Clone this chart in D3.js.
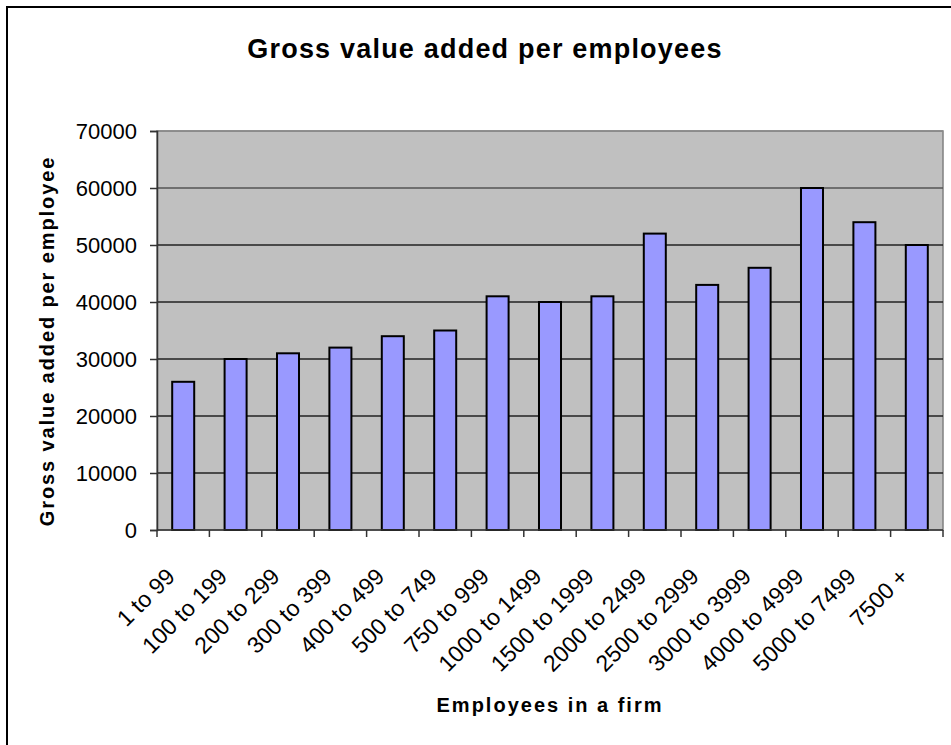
<!DOCTYPE html>
<html>
<head>
<meta charset="utf-8">
<script src="https://cdn.jsdelivr.net/npm/d3@7/dist/d3.min.js"></script>
<style>
  html, body { margin: 0; padding: 0; background: #fff; }
  svg { display: block; font-family: Arial, "Liberation Sans", sans-serif; }
</style>
</head>
<body>
<svg id="chart" width="951" height="745"></svg>
<script>
// Firm size classes and gross value added per employee
const categories = ["1 to 99", "100 to 199", "200 to 299", "300 to 399", "400 to 499",
  "500 to 749", "750 to 999", "1000 to 1499", "1500 to 1999", "2000 to 2499",
  "2500 to 2999", "3000 to 3999", "4000 to 4999", "5000 to 7499", "7500 +"];
const values = [26000, 30000, 31000, 32000, 34000, 35000, 41000, 40000, 41000,
  52000, 43000, 46000, 60000, 54000, 50000];
const yTicks = [0, 10000, 20000, 30000, 40000, 50000, 60000, 70000];
const titleText = "Gross value added per employees";
const xTitleText = "Employees in a firm";
const yTitleText = "Gross value added per employee";

const svg = d3.select("#chart");
const W = 951, H = 745;
const plot = { left: 157, right: 943, top: 131, bottom: 530 };

// outer chart frame (extends past the right and bottom edges)
svg.append("rect")
  .attr("x", 7).attr("y", 7).attr("width", W + 10).attr("height", H + 10)
  .attr("fill", "#fff").attr("stroke", "#000").attr("stroke-width", 2);

const x = d3.scaleBand().domain(categories).range([plot.left, plot.right]).paddingInner(0.58).paddingOuter(0.29);
const xTickPos = d3.scaleBand().domain(categories).range([plot.left, plot.right]);
const y = d3.scaleLinear().domain([0, 70000]).range([plot.bottom, plot.top]);

// plot background
svg.append("rect")
  .attr("x", plot.left).attr("y", plot.top)
  .attr("width", plot.right - plot.left).attr("height", plot.bottom - plot.top)
  .attr("fill", "#c0c0c0").attr("stroke", "#808080").attr("stroke-width", 1.5);

// horizontal gridlines
svg.append("g").selectAll("line").data(yTicks.filter(d => d > 0)).join("line")
  .attr("x1", plot.left).attr("x2", plot.right)
  .attr("y1", d => y(d)).attr("y2", d => y(d))
  .attr("stroke", d => d === 70000 ? "#8a8a8a" : (d === 60000 ? "#555" : "#222"))
  .attr("stroke-width", 1.5);

// bars
svg.append("g").selectAll("rect").data(values).join("rect")
  .attr("x", (d, i) => x(categories[i]))
  .attr("y", d => y(d))
  .attr("width", x.bandwidth())
  .attr("height", d => y(0) - y(d))
  .attr("fill", "#9999ff")
  .attr("stroke", "#000").attr("stroke-width", 2);

// y axis
const yAxis = svg.append("g")
  .attr("transform", `translate(${plot.left},0)`)
  .call(d3.axisLeft(y).tickValues(yTicks).tickFormat(d3.format("d")).tickSize(7).tickPadding(13));
yAxis.select(".domain").attr("stroke", "#333").attr("stroke-width", 1.5);
yAxis.selectAll(".tick line").attr("stroke", "#333").attr("stroke-width", 1.5);
yAxis.selectAll(".tick text")
  .attr("font-size", 22).attr("fill", "#000")
  .attr("font-family", "Arial, 'Liberation Sans', sans-serif");

// x axis: ticks sit between categories
const xAxisG = svg.append("g").attr("transform", `translate(0,${plot.bottom})`);
xAxisG.append("line")
  .attr("x1", plot.left).attr("x2", plot.right)
  .attr("stroke", "#333").attr("stroke-width", 1.5);
const boundaries = categories.map(c => xTickPos(c)).concat([plot.right]);
xAxisG.selectAll("line.tk").data(boundaries).join("line")
  .attr("class", "tk")
  .attr("x1", d => d).attr("x2", d => d)
  .attr("y1", 0).attr("y2", 7)
  .attr("stroke", "#333").attr("stroke-width", 1.5);

// rotated category labels, anchored at the end of the baseline
xAxisG.selectAll("text").data(categories).join("text")
  .attr("transform", d => `translate(${xTickPos(d) + xTickPos.bandwidth() / 2 - 7},${48}) rotate(-45)`)
  .attr("text-anchor", "end")
  .attr("font-size", 23)
  .attr("fill", "#000")
  .text(d => d);

// chart title
svg.append("text")
  .attr("x", 485).attr("y", 58)
  .attr("text-anchor", "middle")
  .attr("font-size", 27).attr("font-weight", "bold")
  .attr("letter-spacing", 1.2)
  .text(titleText);

// axis titles
svg.append("text")
  .attr("x", (plot.left + plot.right) / 2).attr("y", 712)
  .attr("text-anchor", "middle")
  .attr("font-size", 20).attr("font-weight", "bold")
  .attr("letter-spacing", 2)
  .text(xTitleText);

svg.append("text")
  .attr("transform", `translate(54,341) rotate(-90)`)
  .attr("text-anchor", "middle")
  .attr("font-size", 20).attr("font-weight", "bold")
  .attr("letter-spacing", 1.9)
  .text(yTitleText);
</script>
</body>
</html>
